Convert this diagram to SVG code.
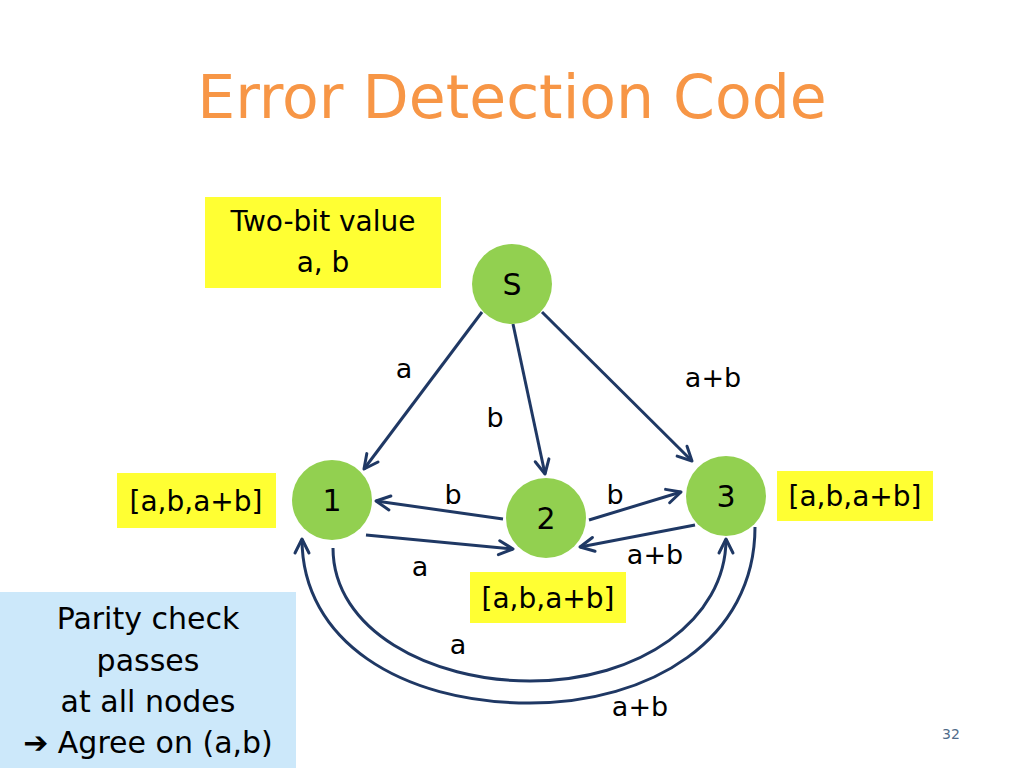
<svg xmlns="http://www.w3.org/2000/svg" width="1024" height="768" viewBox="0 0 1024 768">
<defs>
<marker id="arr" markerUnits="userSpaceOnUse" markerWidth="20" markerHeight="20" viewBox="0 0 20 20" refX="17" refY="10" orient="auto">
<path d="M3,3 L17,10 L3,17" fill="none" stroke="#1F3864" stroke-width="3" stroke-linecap="round" stroke-linejoin="round"/>
</marker>
</defs>
<style>
text{font-family:"DejaVu Sans","Liberation Sans",sans-serif;fill:#000}
.node circle{fill:#92D050}
.nl{font-size:30px;text-anchor:middle}
.lbl{font-size:27px;text-anchor:middle}
.edge{fill:none;stroke:#1F3864;stroke-width:3;marker-end:url(#arr)}
.ybox{fill:#FFFF33}
</style>
<rect width="1024" height="768" fill="#fff"/>
<text x="512" y="118" font-size="60" text-anchor="middle" style="fill:#F79646">Error Detection Code</text>

<g id="info">
<rect class="ybox" x="205" y="197" width="236" height="91"/>
<text x="323" y="231" font-size="28" text-anchor="middle">Two-bit value</text>
<text x="323" y="272" font-size="28" text-anchor="middle">a, b</text>
</g>

<g id="connectors">
<path class="edge" d="M482,312 L364,469"/>
<path class="edge" d="M513,324 L545,474"/>
<path class="edge" d="M542,312 L692,461"/>
<path class="edge" d="M503,519 L376,501"/>
<path class="edge" d="M366,535 L513,549"/>
<path class="edge" d="M589,520 L681,492"/>
<path class="edge" d="M695,525 L580,547"/>
<path class="edge" d="M333,548 C333,630 430,681 530,681 C640,681 726,620 726,539"/>
<path class="edge" d="M755,527 C755,640 650,703 530,703 C400,703 302,640 302,539"/>
</g>

<g id="labels">
<text class="lbl" x="404" y="378">a</text>
<text class="lbl" x="495" y="427">b</text>
<text class="lbl" x="713" y="387">a+b</text>
<text class="lbl" x="453" y="504">b</text>
<text class="lbl" x="615" y="504">b</text>
<text class="lbl" x="420" y="576">a</text>
<text class="lbl" x="655" y="564">a+b</text>
<text class="lbl" x="458" y="654">a</text>
<text class="lbl" x="640" y="716">a+b</text>
</g>

<g id="node-S" class="node"><circle cx="512" cy="284" r="40"/><text class="nl" x="512" y="295">S</text></g>
<g id="node-1" class="node"><circle cx="332" cy="500" r="40"/><text class="nl" x="332" y="511">1</text></g>
<g id="node-2" class="node"><circle cx="546" cy="518" r="40"/><text class="nl" x="546" y="529">2</text></g>
<g id="node-3" class="node"><circle cx="726" cy="496" r="40"/><text class="nl" x="726" y="507">3</text></g>

<g id="vec-1"><rect class="ybox" x="117" y="473" width="159" height="55"/><text x="196" y="511" font-size="28" text-anchor="middle">[a,b,a+b]</text></g>
<g id="vec-3"><rect class="ybox" x="777" y="471" width="156" height="50"/><text x="855" y="506" font-size="28" text-anchor="middle">[a,b,a+b]</text></g>
<g id="vec-2"><rect class="ybox" x="470" y="572" width="156" height="51"/><text x="548" y="608" font-size="28" text-anchor="middle">[a,b,a+b]</text></g>

<g id="conclusion">
<rect x="0" y="592" width="296" height="176" fill="#CCE8FA"/>
<text x="148" y="629" font-size="30" text-anchor="middle">Parity check</text>
<text x="148" y="671" font-size="30" text-anchor="middle">passes</text>
<text x="148" y="712" font-size="30" text-anchor="middle">at all nodes</text>
<text x="148" y="753" font-size="30" text-anchor="middle">➔ Agree on (a,b)</text>
</g>

<text x="951" y="739" font-size="14" text-anchor="middle" style="fill:#4F6B8A">32</text>
</svg>
